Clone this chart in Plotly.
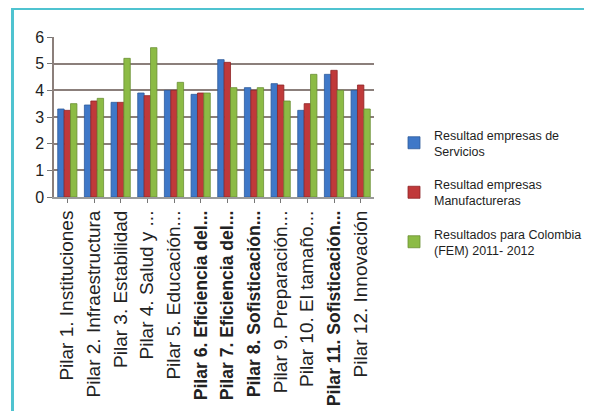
import plotly.graph_objects as go

BOLD = '<b><span style="font-size:17.6px">{}</span></b>'
categories = [
    "Pilar 1. Instituciones", "Pilar 2. Infraestructura", "Pilar 3. Estabilidad",
    "Pilar 4. Salud y ...", "Pilar 5. Educación...", BOLD.format("Pilar 6. Eficiencia del..."),
    BOLD.format("Pilar 7. Eficiencia del..."), BOLD.format("Pilar 8. Sofisticación..."),
    "Pilar 9. Preparación...", "Pilar 10. El tamaño...", BOLD.format("Pilar 11. Sofisticación..."),
    "Pilar 12. Innovación",
]
servicios = [3.3, 3.45, 3.55, 3.9, 4.0, 3.85, 5.15, 4.1, 4.25, 3.25, 4.6, 4.0]
manufactureras = [3.25, 3.6, 3.55, 3.8, 4.0, 3.9, 5.05, 4.0, 4.2, 3.5, 4.75, 4.2]
colombia = [3.5, 3.7, 5.2, 5.6, 4.3, 3.9, 4.1, 4.1, 3.6, 4.6, 4.0, 3.3]

series = [
    ("Resultad empresas de<br>Servicios", servicios, "#3f78c8", "#2d5a9a"),
    ("Resultad empresas<br>Manufactureras", manufactureras, "#c0393a", "#8e2526"),
    ("Resultados para Colombia<br>(FEM) 2011- 2012", colombia, "#8cbb45", "#6a8f33"),
]

idx = list(range(len(categories)))
fig = go.Figure()
for i, (name, vals, col, edge) in enumerate(series):
    fig.add_trace(go.Bar(
        x=idx, y=vals, name=name, legendgroup=str(i),
        marker=dict(color=col, line=dict(color=edge, width=0.8)),
    ))

OFF = 8
L, R_END, T, B_END = 54 - OFF, 374 - OFF, 37 - OFF, 197 - OFF
W, H = 592, 411
pw, ph = R_END - L, B_END - T


def px2x(px):
    return (px - OFF - L) / pw


def py2y(py):
    return (B_END - (py - OFF)) / ph


fig.add_shape(type="rect", xref="paper", yref="paper",
              x0=px2x(12.5), x1=px2x(800), y0=py2y(600), y1=py2y(8.5),
              line=dict(color="#4fc3d0", width=3), fillcolor="rgba(0,0,0,0)", layer="below")

fig.update_layout(
    width=W, height=H,
    margin=dict(l=L, r=W - R_END, t=T, b=H - B_END, autoexpand=False),
    paper_bgcolor="white", plot_bgcolor="white",
    barmode="group", bargap=0.28, bargroupgap=0,
    font=dict(family="Liberation Sans, Arial, sans-serif", color="#222"),
    showlegend=True,
    legend=dict(x=px2x(394), y=py2y(120), xanchor="left", yanchor="top",
                font=dict(family="Liberation Sans, Arial", size=12.5, color="#1e1e1e"),
                tracegroupgap=14, itemwidth=30, bgcolor="rgba(0,0,0,0)"),
    xaxis=dict(
        tickmode="array", tickvals=idx, ticktext=categories, tickangle=-90,
        range=[-0.5, len(categories) - 0.5],
        tickfont=dict(size=19, family="Liberation Sans, Arial", color="#222"),
        showline=True, linecolor="#9a9a9a", linewidth=2,
        ticks="outside", tickson="boundaries", ticklen=4, tickcolor="#777",
        showgrid=False, automargin=False,
    ),
    yaxis=dict(
        range=[0, 6], dtick=1, tickfont=dict(size=16, color="#222"),
        showgrid=True, gridcolor="#8b7f7b", gridwidth=1.5,
        showline=True, linecolor="#8b7f7b", linewidth=1.5,
        ticks="outside", ticklen=5, tickcolor="#777", zeroline=False,
        automargin=False,
    ),
)

fig.write_html("out.html")
